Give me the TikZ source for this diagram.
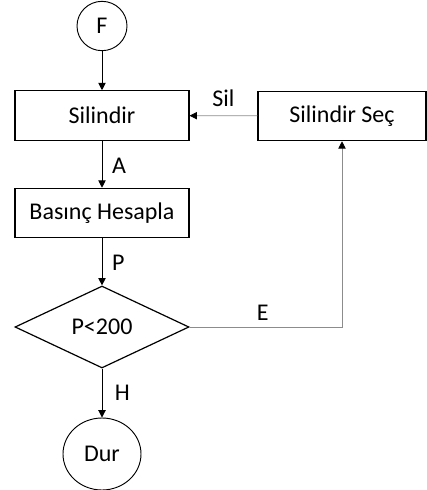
\documentclass[tikz,border=0pt]{standalone}
\usepackage{fontspec}
\setmainfont{Carlito}
\usetikzlibrary{arrows.meta,shapes.geometric}
\definecolor{linegray}{HTML}{8C8C8C}

\begin{document}
\begin{tikzpicture}[x=0.75pt, y=-0.75pt, font=\fontsize{18}{20}\selectfont,
    box/.style={draw, line width=0.9pt, minimum width=130.5pt, minimum height=37pt, inner sep=0pt},
    terminal/.style={draw, line width=0.7pt, ellipse, inner sep=0pt},
    decision/.style={draw, line width=0.9pt, diamond, aspect=2.1, minimum width=130.5pt, minimum height=61.5pt, inner sep=0pt},
    flow/.style={-{Triangle[length=5.5pt, width=5.5pt]}, line width=0.7pt},
    back/.style={-{Triangle[length=5.5pt, width=5.5pt, color=black]}, line width=0.6pt, draw=linegray}]
    \useasboundingbox (0,0) rectangle (427,490);
    \node[terminal, minimum width=37.5pt, minimum height=37pt] (start) at (102,26) {F};
    \node[box] (silindir) at (102,115.5) {Silindir};
    \node[box, minimum width=126pt] (secim) at (342,116) {Silindir Seç};
    \node[box] (basinc) at (102,213) {Basınç Hesapla};
    \node[decision] (kosul) at (102,327) {P<200};
    \node[terminal, minimum width=58.5pt, minimum height=54pt] (stop) at (102,454) {Dur};
    \coordinate (kose) at (secim.south |- kosul.east);
    \draw[flow] (start) -- (silindir);
    \draw[flow] (silindir) -- node[right, xshift=4pt, yshift=-1.5pt] {A} (basinc);
    \draw[flow] (basinc) -- node[right, xshift=4pt, yshift=-1pt] {P} (kosul);
    \draw[flow] (kosul) -- node[right, xshift=6pt] {H} (stop);
    \draw[back] (secim) -- node[above, yshift=3pt] {Sil} (silindir);
    \draw[back] (kosul.east) -- node[above, pos=0.48, yshift=1pt] {E} (kose) -- (secim.south);
  \end{tikzpicture}
\end{document}
